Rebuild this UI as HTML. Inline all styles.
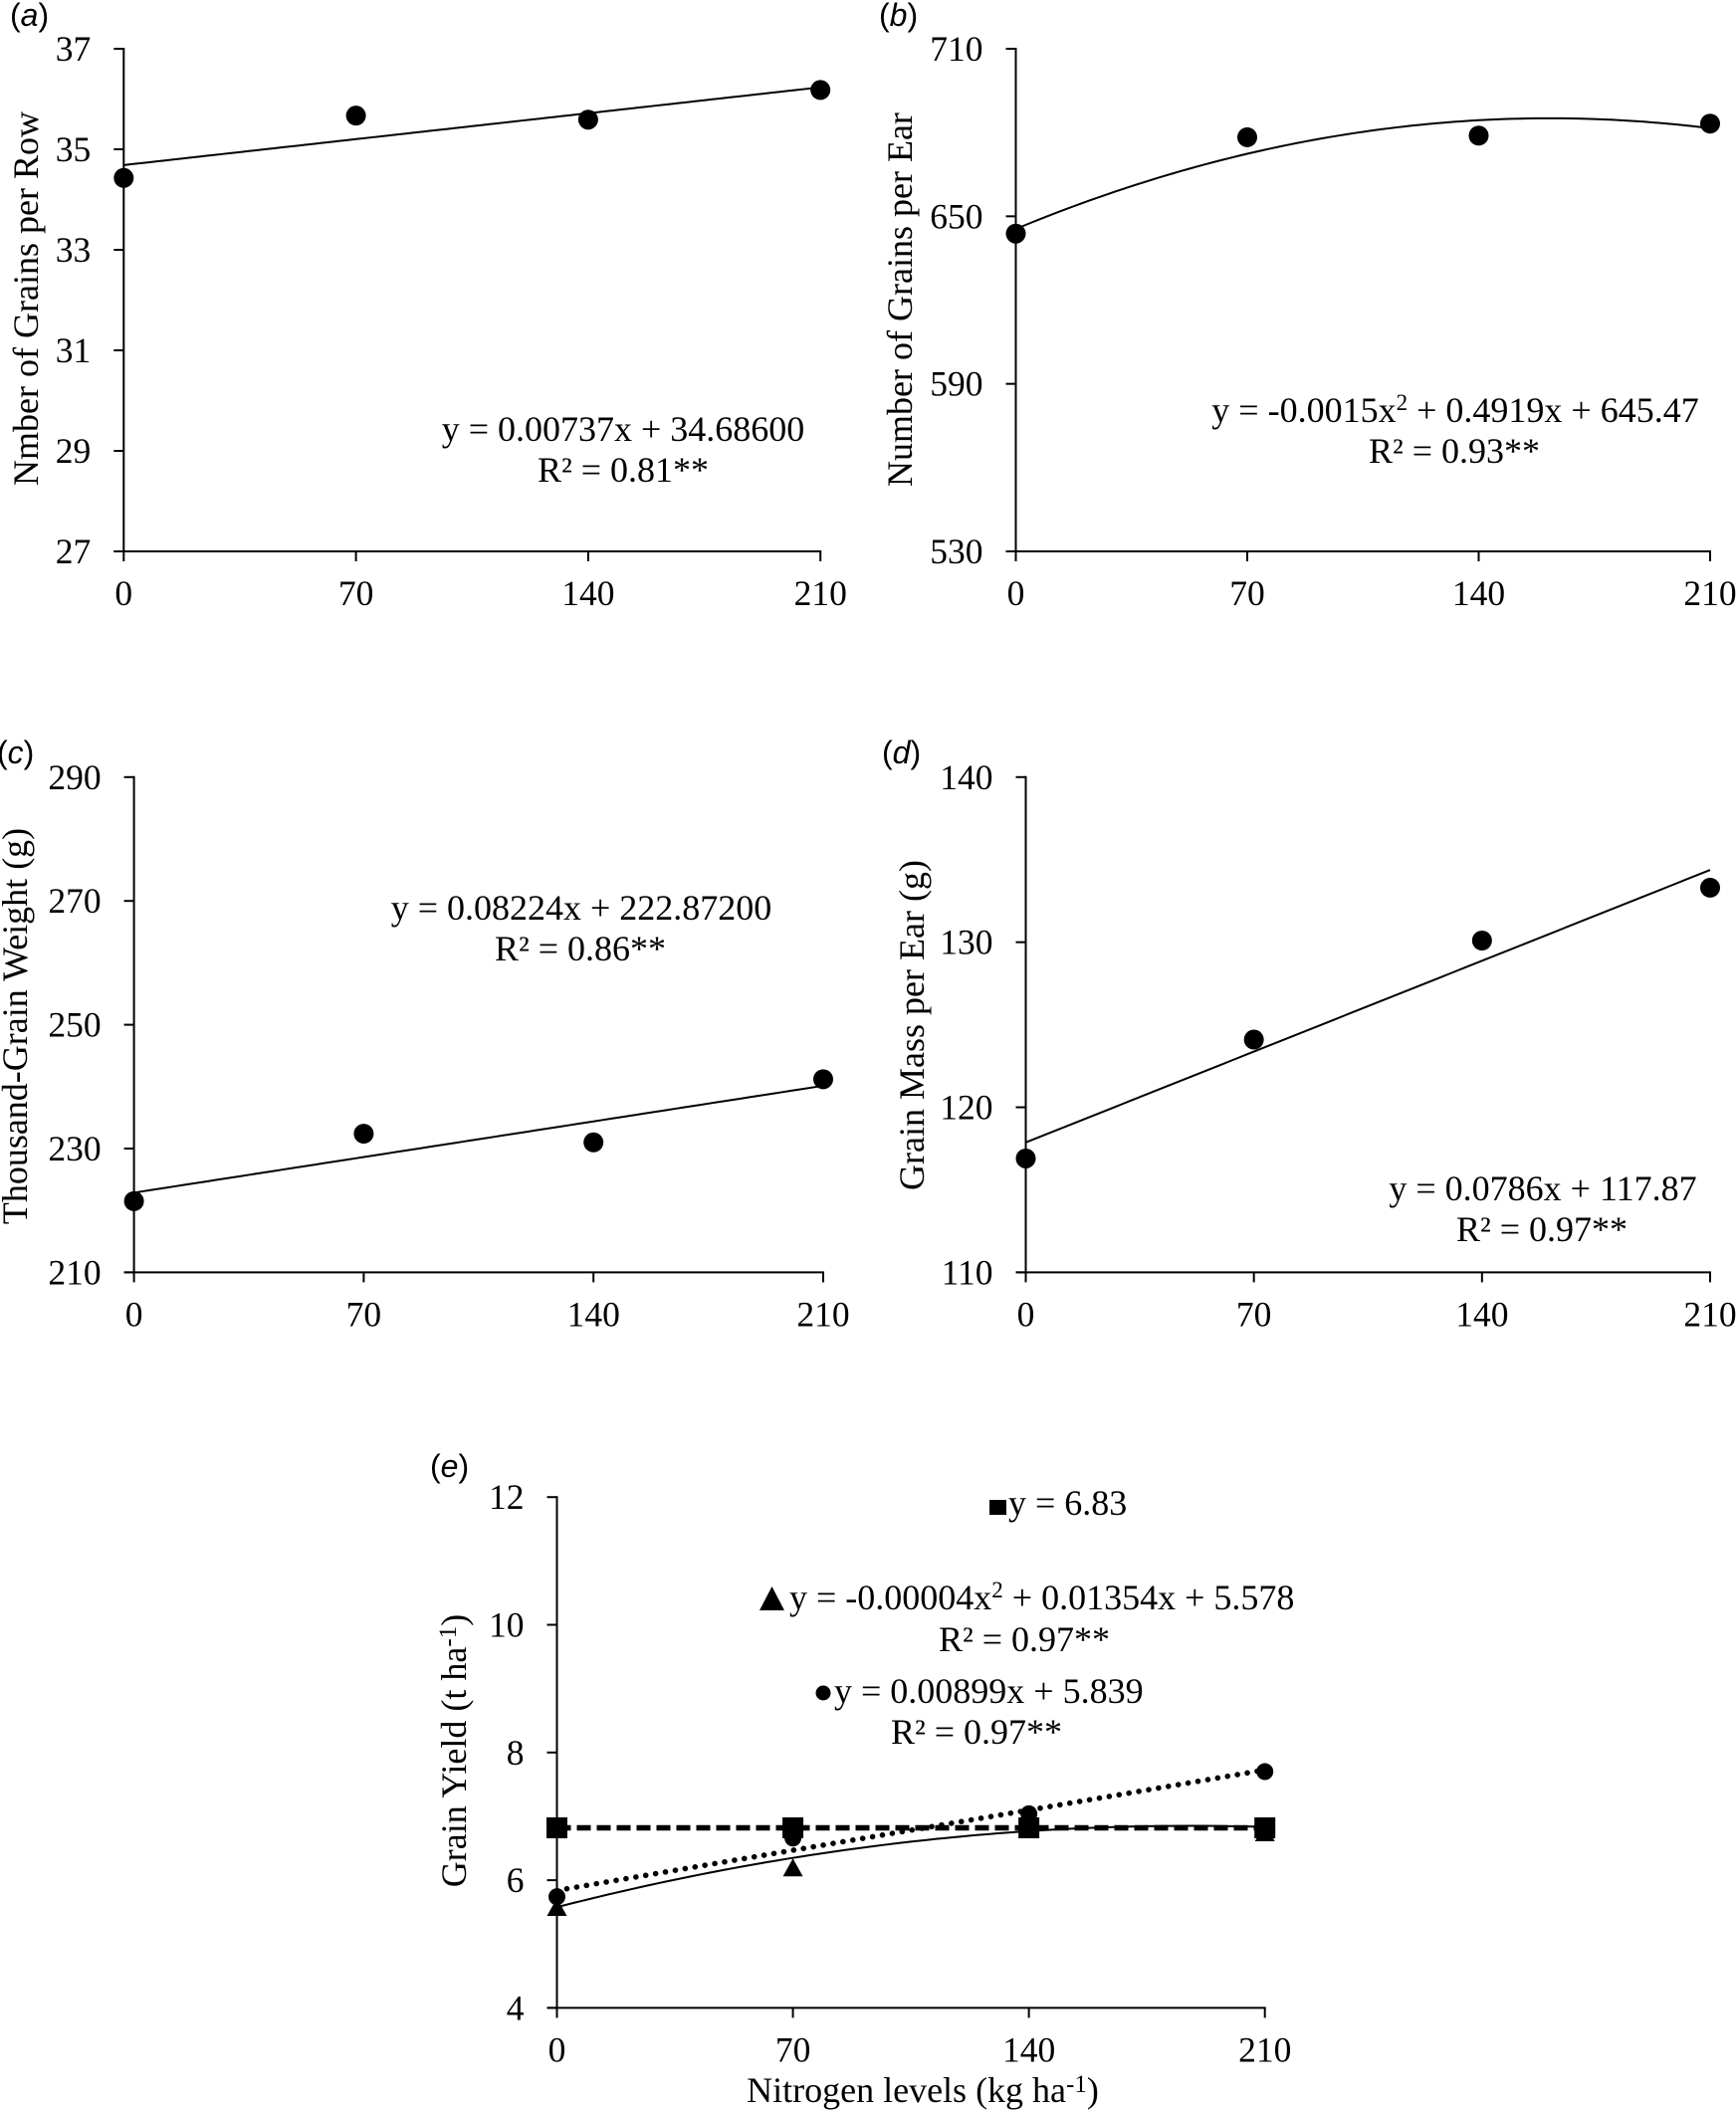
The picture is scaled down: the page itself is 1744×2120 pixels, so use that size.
<!DOCTYPE html>
<html lang="en">
<head>
<meta charset="utf-8">
<title>Maize yield components versus nitrogen level</title>
<style>
  html, body { margin: 0; padding: 0; background: #fff; }
  svg { display: block; }
  text { font-family: "Liberation Serif", serif; font-size: 36px; fill: #000; }
  text.tick { font-size: 35.5px; }
  text.tag { font-family: "Liberation Sans", sans-serif; font-size: 32px; }
  .mid { text-anchor: middle; }
</style>
</head>
<body>
<svg id="figure" xmlns="http://www.w3.org/2000/svg" width="1744" height="2120" viewBox="0 0 1744 2120">
  <rect width="1744" height="2120" fill="#fff"/>

  <g id="panel-a">
    <text class="tag" x="10" y="26">(<tspan font-style="italic">a</tspan>)</text>
    <text class="mid" x="38" y="300" transform="rotate(-90 38 300)">Nmber of Grains per Row</text>
    <text class="mid" x="626" y="443">y = 0.00737x + 34.68600</text>
    <text class="mid" x="626" y="484">R² = 0.81**</text>
  </g>

  <g id="panel-b">
    <text class="tag" x="883" y="26">(<tspan font-style="italic">b</tspan>)</text>
    <text class="mid" x="916" y="301" transform="rotate(-90 916 301)">Number of Grains per Ear</text>
    <text class="mid" x="1462" y="424">y = -0.0015x<tspan dy="-12" font-size="23">2</tspan><tspan dy="12"> + 0.4919x + 645.47</tspan></text>
    <text class="mid" x="1461" y="465">R² = 0.93**</text>
  </g>

  <g id="panel-c">
    <text class="tag" x="-3" y="767">(<tspan font-style="italic">c</tspan>)</text>
    <text class="mid" x="27" y="1031" transform="rotate(-90 27 1031)">Thousand-Grain Weight (g)</text>
    <text class="mid" x="584" y="924">y = 0.08224x + 222.87200</text>
    <text class="mid" x="583" y="965">R² = 0.86**</text>
  </g>

  <g id="panel-d">
    <text class="tag" x="886" y="767">(<tspan font-style="italic">d</tspan>)</text>
    <text class="mid" x="928" y="1030" transform="rotate(-90 928 1030)">Grain Mass per Ear (g)</text>
    <text class="mid" x="1550" y="1206">y = 0.0786x + 117.87</text>
    <text class="mid" x="1549" y="1247">R² = 0.97**</text>
  </g>

  <g id="panel-e">
    <text class="tag" x="432" y="1484">(<tspan font-style="italic">e</tspan>)</text>
    <text class="mid" x="468" y="1759" transform="rotate(-90 468 1759)">Grain Yield (t ha<tspan dy="-10" font-size="25">-1</tspan><tspan dy="10">)</tspan></text>
    <text class="mid" x="927" y="2112">Nitrogen levels (kg ha<tspan dy="-10" font-size="25">-1</tspan><tspan dy="10">)</tspan></text>

    <rect x="994" y="1507" width="17" height="15" fill="#000"/>
    <text x="1013" y="1522">y = 6.83</text>

    <polygon points="763,1618 788,1618 775.5,1594" fill="#000"/>
    <text x="793" y="1617">y = -0.00004x<tspan dy="-12" font-size="23">2</tspan><tspan dy="12"> + 0.01354x + 5.578</tspan></text>
    <text class="mid" x="1029" y="1659">R² = 0.97**</text>

    <circle cx="827" cy="1701" r="7.5" fill="#000"/>
    <text x="838" y="1711">y = 0.00899x + 5.839</text>
    <text class="mid" x="981" y="1752">R² = 0.97**</text>
  </g>
</svg>

<script>
// Shared x axis: nitrogen dose (kg/ha)
const nitrogenLevels = [0, 70, 140, 210];

// Panel (a)
const panelATicks = [27, 29, 31, 33, 35, 37];
const panelAValues = [34.43, 35.67, 35.59, 36.18];
const panelATrend = [34.686, 0.00737, 0];

// Panel (b)
const panelBTicks = [530, 590, 650, 710];
const panelBValues = [643.8, 678.3, 678.9, 683.2];
const panelBTrend = [645.47, 0.4909, -0.00152];

// Panel (c)
const panelCTicks = [210, 230, 250, 270, 290];
const panelCValues = [221.5, 232.4, 231.0, 241.2];
const panelCTrend = [222.872, 0.08224, 0];

// Panel (d)
const panelDTicks = [110, 120, 130, 140];
const panelDValues = [116.9, 124.1, 130.1, 133.3];
const panelDTrend = [117.87, 0.0786, 0];

// Panel (e)
const panelETicks = [4, 6, 8, 10, 12];
const panelECircleValues = [5.74, 6.66, 7.04, 7.70];
const panelETriangleValues = [5.58, 6.20, 6.80, 6.75];
const panelESquareValues = [6.82, 6.82, 6.82, 6.82];
const panelECircleTrend = [5.839, 0.00899, 0];
const panelETriangleTrend = [5.578, 0.01354, -0.000036];
const panelESquareTrend = [6.82, 0, 0];

const SVG_NS = 'http://www.w3.org/2000/svg';

function shape(parent, tag, attrs) {
  const el = document.createElementNS(SVG_NS, tag);
  for (const k in attrs) el.setAttribute(k, attrs[k]);
  parent.appendChild(el);
  return el;
}

function makeScale(domain, range) {
  const d0 = domain[0], d1 = domain[domain.length - 1];
  return v => range[0] + (v - d0) / (d1 - d0) * (range[1] - range[0]);
}

function drawAxes(group, x, y, xTicks, yTicks) {
  const x0 = x(xTicks[0]), x1 = x(xTicks[xTicks.length - 1]);
  const y0 = y(yTicks[0]), y1 = y(yTicks[yTicks.length - 1]);

  const yAxis = shape(group, 'line', { x1: x0, x2: x0, y1: y1 - 1, y2: y0 + 1, stroke: '#000', 'stroke-width': 2 });
  
  

  const xAxis = shape(group, 'line', { x1: x0 - 10, x2: x1 + 1, y1: y0, y2: y0, stroke: '#000', 'stroke-width': 2 });
  
  

  yTicks.forEach(t => {
    const mark = shape(group, 'line', { x1: x0 - 10, x2: x0, y1: y(t), y2: y(t), stroke: '#000', 'stroke-width': 2 });
    
    

    const label = shape(group, 'text', { x: x0 - 33, y: y(t) + 12, 'text-anchor': 'end', 'class': 'tick' });
    label.textContent = String(t);
    
    
  });

  xTicks.forEach(t => {
    const mark = shape(group, 'line', { x1: x(t), x2: x(t), y1: y0, y2: y0 + 10, stroke: '#000', 'stroke-width': 2 });
    
    

    const label = shape(group, 'text', { x: x(t), y: y0 + 54, 'text-anchor': 'middle', 'class': 'tick' });
    label.textContent = String(t);
    
    
  });
}

function trendPath(x, y, xTicks, coef) {
  const start = xTicks[0], end = xTicks[xTicks.length - 1];
  let d = '';
  for (let n = 0; n <= 84; n++) {
    const v = start + (end - start) * n / 84;
    d += (n ? 'L' : 'M') + x(v).toFixed(2) + ' ' + y(coef[0] + coef[1] * v + coef[2] * v * v).toFixed(2);
  }
  return d;
}

function drawSimplePanel(id, xRange, yRange, yTicks, values, coef) {
  const group = document.getElementById(id);
  const x = makeScale(nitrogenLevels, xRange);
  const y = makeScale(yTicks, yRange);
  drawAxes(group, x, y, nitrogenLevels, yTicks);

  const trend = shape(group, 'path', { d: trendPath(x, y, nitrogenLevels, coef), fill: 'none', stroke: '#000', 'stroke-width': 2 });
  
  

  values.forEach((v, i) => {
    const dot = shape(group, 'circle', { cx: x(nitrogenLevels[i]), cy: y(v), r: 10, fill: '#000' });
    
    
  });
}

drawSimplePanel('panel-a', [124.3, 824.2], [554, 49], panelATicks, panelAValues, panelATrend);
drawSimplePanel('panel-b', [1020.5, 1718], [554, 49], panelBTicks, panelBValues, panelBTrend);
drawSimplePanel('panel-c', [134.6, 827], [1278.4, 780.8], panelCTicks, panelCValues, panelCTrend);
drawSimplePanel('panel-d', [1030.5, 1718], [1278.4, 780.8], panelDTicks, panelDValues, panelDTrend);

// Panel (e): three series with distinct markers and line styles
(function () {
  const group = document.getElementById('panel-e');
  const x = makeScale(nitrogenLevels, [559.5, 1270.7]);
  const y = makeScale(panelETicks, [2017.4, 1504.2]);
  drawAxes(group, x, y, nitrogenLevels, panelETicks);

  const triangleTrend = shape(group, 'path', { d: trendPath(x, y, nitrogenLevels, panelETriangleTrend), fill: 'none', stroke: '#000', 'stroke-width': 2 });
  
  

  const circleTrend = shape(group, 'path', { d: trendPath(x, y, nitrogenLevels, panelECircleTrend), fill: 'none', stroke: '#000', 'stroke-width': 5.5, 'stroke-linecap': 'round', 'stroke-dasharray': '0.1 9.95' });
  
  

  panelECircleValues.forEach((v, i) => {
    const dot = shape(group, 'circle', { cx: x(nitrogenLevels[i]), cy: y(v), r: 8.5, fill: '#000' });
    
    
  });

  panelETriangleValues.forEach((v, i) => {
    const cx = x(nitrogenLevels[i]), cy = y(v);
    const tri = shape(group, 'polygon', { points: (cx - 10) + ',' + (cy + 9) + ' ' + (cx + 10) + ',' + (cy + 9) + ' ' + cx + ',' + (cy - 9), fill: '#000' });
    
    
  });

  panelESquareValues.forEach((v, i) => {
    const sq = shape(group, 'rect', { x: x(nitrogenLevels[i]) - 10.5, y: y(v) - 10.5, width: 21, height: 21, fill: '#000' });
    
    
  });

  const squareTrend = shape(group, 'path', { d: trendPath(x, y, nitrogenLevels, panelESquareTrend), fill: 'none', stroke: '#000', 'stroke-width': 5.5, 'stroke-dasharray': '14 6' });
  
  
})();
</script>
</body>
</html>
